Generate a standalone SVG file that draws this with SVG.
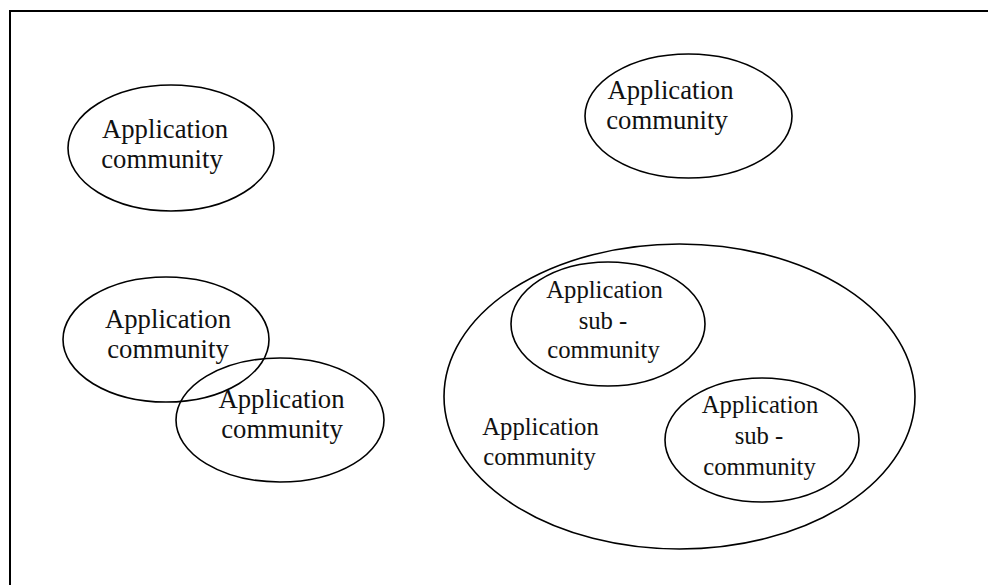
<svg xmlns="http://www.w3.org/2000/svg" width="988" height="585" viewBox="0 0 988 585">
<style>
.e{fill:none;stroke:#000;stroke-width:1.6}
.t{font-family:"Liberation Serif","Times New Roman",serif;font-size:26.7px;fill:#111;text-anchor:middle}
.s{font-size:24.7px}
</style>
<rect width="988" height="585" fill="#fff"/>
<path d="M10,585 V11 H988" fill="none" stroke="#000" stroke-width="2"/>
<g id="ac1"><ellipse class="e" cx="171" cy="148" rx="103" ry="63"/>
<text class="t" x="165" y="138">Application</text><text class="t" x="162" y="168">community</text></g>
<g id="ac2"><ellipse class="e" cx="688.5" cy="116" rx="103.5" ry="62"/>
<text class="t" x="670.5" y="99">Application</text><text class="t" x="667" y="129">community</text></g>
<g id="ac3"><ellipse class="e" cx="166" cy="339.5" rx="103" ry="62.5"/>
<text class="t" x="168" y="328">Application</text><text class="t" x="168" y="358">community</text></g>
<g id="ac4"><ellipse class="e" cx="280" cy="420" rx="104" ry="62"/>
<text class="t" x="281.5" y="408">Application</text><text class="t" x="282" y="438">community</text></g>
<g id="ac5"><ellipse class="e" cx="679.5" cy="396.5" rx="235.5" ry="152.5"/>
<text class="t s" x="540.5" y="435">Application</text><text class="t s" x="539.5" y="465">community</text></g>
<g id="sub1"><ellipse class="e" cx="608" cy="324" rx="97" ry="62"/>
<text class="t s" x="604.5" y="298">Application</text><text class="t s" x="603" y="329">sub -</text><text class="t s" x="603.5" y="358">community</text></g>
<g id="sub2"><ellipse class="e" cx="762" cy="440" rx="97" ry="62"/>
<text class="t s" x="760" y="413">Application</text><text class="t s" x="759" y="444">sub -</text><text class="t s" x="759.5" y="475">community</text></g>
<g id="connectors"/>
</svg>
